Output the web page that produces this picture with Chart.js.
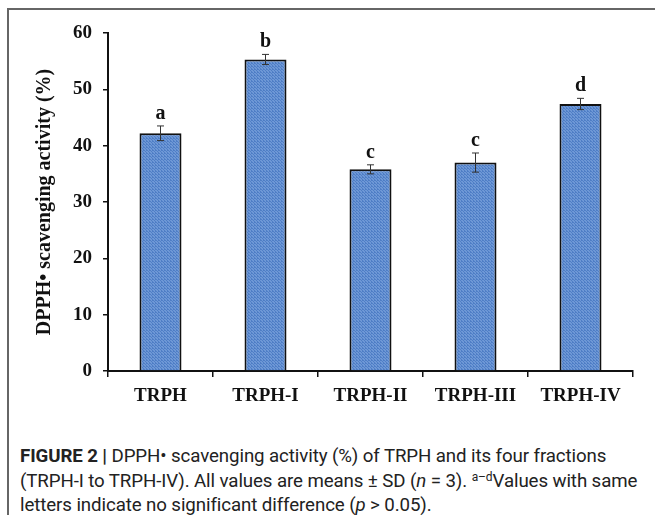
<!DOCTYPE html>
<html>
<head>
<meta charset="utf-8">
<script src="https://cdn.jsdelivr.net/npm/chart.js@4.4.1/dist/chart.umd.min.js"></script>
<style>
  html, body { margin: 0; padding: 0; background: #fff; }
  body { width: 655px; height: 515px; position: relative; overflow: hidden; }
  #frame {
    position: absolute; left: 7px; top: 8px; width: 700px; height: 600px;
    border-top: 2px solid #666; border-left: 2px solid #666;
  }
  #wrap { position: absolute; left: 0; top: 0; width: 655px; height: 430px; }
  #caption {
    position: absolute; left: 20px; top: 444px; width: 640px;
    font-family: "Roboto", sans-serif;
    font-size: 18.7px; line-height: 24.5px; color: #222; white-space: nowrap;
    letter-spacing: -0.1px;
  }
  #caption sup { font-size: 12px; vertical-align: 6px; line-height: 0; }
</style>
</head>
<body>
<div id="frame"></div>
<div id="wrap"><canvas id="chart"></canvas></div>
<div id="caption"><b>FIGURE 2 |</b> DPPH&#8226; scavenging activity (%) of TRPH and its four fractions<br>(TRPH-I to TRPH-IV). All values are means &plusmn; SD (<i>n</i> = 3). <sup>a&#8211;d</sup>Values with same<br>letters indicate no significant difference (<i>p</i> &gt; 0.05).</div>
<script>
// data
const labels = ['TRPH', 'TRPH-I', 'TRPH-II', 'TRPH-III', 'TRPH-IV'];
const values = [42.2, 55.3, 35.8, 37.0, 47.4];
const sd     = [1.3, 0.9, 0.8, 1.7, 1.0];
const letters = ['a', 'b', 'c', 'c', 'd'];

// fine dotted blue fill like the original bars
function makePattern() {
  const c = document.createElement('canvas');
  c.width = 3; c.height = 3;
  const g = c.getContext('2d');
  g.fillStyle = '#6e98d6';
  g.fillRect(0, 0, 3, 3);
  g.fillStyle = '#4f7ec6';
  g.fillRect(0, 0, 1, 1);
  g.fillRect(1, 1, 1, 1);
  g.fillRect(2, 2, 1, 1);
  g.fillRect(2, 0, 1, 1);
  return g.createPattern(c, 'repeat');
}

const serif = 'Liberation Serif';

// error bars + significance letters
const errorBars = {
  id: 'errorBars',
  afterDatasetsDraw(chart) {
    const ctx = chart.ctx;
    const y = chart.scales.y;
    const meta = chart.getDatasetMeta(0);
    ctx.save();
    meta.data.forEach((bar, i) => {
      const x = bar.x;
      const top = y.getPixelForValue(values[i] + sd[i]);
      const bot = y.getPixelForValue(values[i] - sd[i]);
      ctx.strokeStyle = '#333';
      ctx.lineWidth = 1;
      ctx.beginPath();
      ctx.moveTo(x, top); ctx.lineTo(x, bot);
      ctx.moveTo(x - 3.5, top); ctx.lineTo(x + 3.5, top);
      ctx.moveTo(x - 3.5, bot); ctx.lineTo(x + 3.5, bot);
      ctx.stroke();
      ctx.fillStyle = '#111';
      ctx.font = 'bold 20px "' + serif + '"';
      ctx.textAlign = 'center';
      ctx.textBaseline = 'alphabetic';
      ctx.fillText(letters[i], x, top - 7);
    });
    ctx.restore();
  }
};

new Chart(document.getElementById('chart'), {
  type: 'bar',
  data: {
    labels,
    datasets: [{
      data: values,
      backgroundColor: makePattern(),
      borderColor: '#111',
      borderWidth: 2,
      categoryPercentage: 1,
      barPercentage: 0.4
    }]
  },
  options: {
    responsive: true,
    maintainAspectRatio: false,
    animation: false,
    layout: { padding: { left: 0, right: 22, top: 33, bottom: 0 } },
    plugins: { legend: { display: false }, tooltip: { enabled: false } },
    scales: {
      x: {
        grid: { display: true, drawOnChartArea: false, offset: true, tickLength: 6, color: '#111', lineWidth: 1.5 },
        border: { color: '#111', width: 2 },
        ticks: { color: '#111', padding: 8, font: { family: serif, size: 19, weight: 'bold' } },
        afterFit(s) { s.height = 59; }
      },
      y: {
        min: 0, max: 60,
        grid: { display: true, drawOnChartArea: false, tickLength: 5, color: '#111', lineWidth: 1.5 },
        border: { color: '#111', width: 2 },
        ticks: { stepSize: 10, color: '#111', padding: 11, font: { family: serif, size: 19, weight: 'bold' } },
        title: {
          display: true, text: 'DPPH\u2022 scavenging activity (%)', color: '#111',
          padding: { top: 33, bottom: 0 },
          font: { family: serif, size: 20, weight: 'bold' }
        },
        afterFit(s) { s.width = 108; }
      }
    }
  },
  plugins: [errorBars]
});
</script>
</body>
</html>
